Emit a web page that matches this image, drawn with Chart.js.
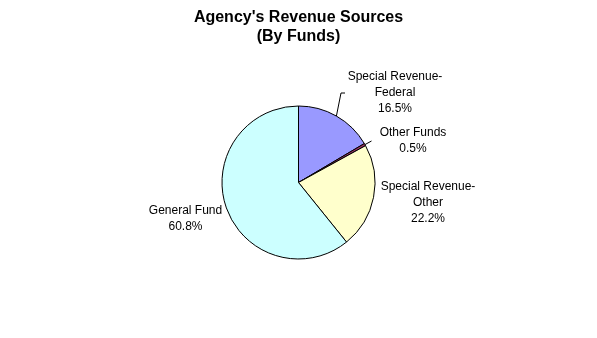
<!DOCTYPE html>
<html>
<head>
<meta charset="utf-8">
<script src="https://cdn.jsdelivr.net/npm/chart.js@4/dist/chart.umd.min.js"></script>
<style>
  html, body { margin: 0; padding: 0; background: #fff; }
  #wrap { width: 597px; height: 338px; }
</style>
</head>
<body>
<div id="wrap"><canvas id="chart" width="597" height="338"></canvas></div>
<script>
// --- data ---
const categories = ['Special Revenue-Federal', 'Other Funds', 'Special Revenue-Other', 'General Fund'];
const shares = [16.5, 0.5, 22.2, 60.8];
const labelLines = [
  ['Special Revenue-', 'Federal', '16.5%'],
  ['Other Funds', '0.5%'],
  ['Special Revenue-', 'Other', '22.2%'],
  ['General Fund', '60.8%']
];
const sliceColors = ['#9999FF', '#993366', '#FFFFCC', '#CCFFFF'];

// label placement, relative to the pie centre (first line centre)
const labelPlacement = [
  { dx: 96.5, dy: -106, leader: [[42.5, -89.5], [46.5, -89.5]] },
  { dx: 114.5, dy: -49.5, leader: [[73, -41.5]] },
  { dx: 129.5, dy: 4, leader: null },
  { dx: -113, dy: 28.5, leader: null }
];

const FONT = '12px "Liberation Sans", Arial, sans-serif';
const LINE_H = 16;

// --- outside labels with leader lines ---
const outsideLabels = {
  id: 'outsideLabels',
  afterDraw(chart) {
    const ctx = chart.ctx;
    const meta = chart.getDatasetMeta(0);
    ctx.save();
    ctx.font = FONT;
    ctx.fillStyle = '#000';
    ctx.strokeStyle = '#000';
    ctx.lineWidth = 1;
    ctx.textAlign = 'center';
    ctx.textBaseline = 'middle';
    meta.data.forEach((arc, i) => {
      const p = arc.getProps(['x', 'y', 'startAngle', 'endAngle', 'outerRadius'], true);
      const place = labelPlacement[i];
      if (place.leader) {
        const mid = (p.startAngle + p.endAngle) / 2;
        ctx.beginPath();
        ctx.moveTo(p.x + Math.cos(mid) * p.outerRadius, p.y + Math.sin(mid) * p.outerRadius);
        place.leader.forEach(pt => ctx.lineTo(p.x + pt[0], p.y + pt[1]));
        ctx.stroke();
      }
      labelLines[i].forEach((line, k) => {
        ctx.fillText(line, p.x + place.dx, p.y + place.dy + k * LINE_H);
      });
    });
    ctx.restore();
  }
};

new Chart(document.getElementById('chart'), {
  type: 'pie',
  data: {
    labels: categories,
    datasets: [{
      data: shares,
      backgroundColor: sliceColors,
      borderColor: '#000',
      borderWidth: 1
    }]
  },
  options: {
    responsive: false,
    animation: false,
    layout: { padding: { top: 0, bottom: 78.5, left: 0, right: 0 } },
    plugins: {
      legend: { display: false },
      tooltip: { enabled: false },
      title: {
        display: true,
        text: ["Agency's Revenue Sources", '(By Funds)'],
        color: '#000',
        font: { family: '"Liberation Sans", Arial, sans-serif', size: 16, weight: 'bold', lineHeight: 1.2 },
        padding: { top: 8, bottom: 59.1 }
      }
    }
  },
  plugins: [outsideLabels]
});
</script>
</body>
</html>
